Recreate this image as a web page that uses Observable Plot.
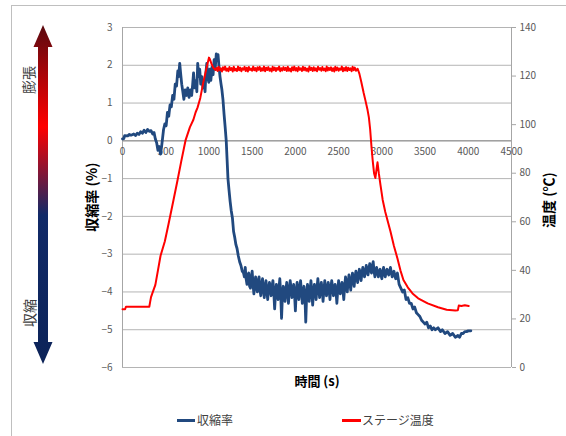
<!DOCTYPE html>
<html><head><meta charset="utf-8">
<script src="https://cdn.jsdelivr.net/npm/d3@7"></script>
<script src="https://cdn.jsdelivr.net/npm/@observablehq/plot@0.6"></script>
<style>
html,body{margin:0;padding:0;background:#fff;width:566px;height:436px;overflow:hidden;font-family:"Noto Sans CJK JP","Noto Sans",sans-serif;}
#wrap{position:relative;width:566px;height:436px;}
.abs{position:absolute;white-space:nowrap;}
.rot{transform:translate(-50%,-50%) rotate(-90deg);}
.ctr{transform:translate(-50%,-50%);}
</style></head>
<body><div id="wrap">
<div class="abs" style="left:11px;top:5px;width:600px;height:480px;border-left:1px solid #bfbfbf;border-top:1px solid #bfbfbf;"></div>
<svg class="abs" style="left:0;top:0" width="80" height="380">
<defs><linearGradient id="g" gradientUnits="userSpaceOnUse" x1="0" y1="25" x2="0" y2="364">
<stop offset="0" stop-color="#5a0a10"/><stop offset="0.3" stop-color="#ff0000"/><stop offset="0.56" stop-color="#112a68"/><stop offset="1" stop-color="#0c2358"/></linearGradient></defs>
<polygon fill="url(#g)" points="43,25 52.5,47 48,47 48,342 52.5,342 43,364 33.5,342 38,342 38,47 33.5,47"/>
</svg>
<div class="abs rot" style="left:28px;top:80px;font-size:14px;color:#404040;">膨張</div>
<div class="abs rot" style="left:29px;top:313px;font-size:14px;color:#404040;">収縮</div>
<div id="chart" class="abs" style="left:0;top:0"></div>
<div class="abs rot" style="left:91px;top:197px;font-size:14px;font-weight:bold;color:#000;">収縮率 (%)</div>
<div class="abs rot" style="left:548px;top:200px;font-size:14px;font-weight:bold;color:#000;">温度 (℃)</div>
<div class="abs ctr" style="left:317px;top:380px;font-size:13px;font-weight:bold;color:#000;">時間 (s)</div>
<div class="abs" style="left:177px;top:419px;width:18px;height:3px;background:#21497f;"></div>
<div class="abs" style="left:197px;top:411px;font-size:12px;color:#404040;line-height:18px;">収縮率</div>
<div class="abs" style="left:342px;top:419px;width:19px;height:3px;background:#ff0000;"></div>
<div class="abs" style="left:362px;top:411px;font-size:12px;color:#404040;line-height:18px;">ステージ温度</div>
</div>
<script>
const xTicks = [0,500,1000,1500,2000,2500,3000,3500,4000,4500];
const yTicks = [-6,-5,-4,-3,-2,-1,0,1,2,3];
const tempTicks = [0,20,40,60,80,100,120,140];

// 収縮率 (%) vs time (s)
const shrinkData = [
[0,0.05],[15,0.06],[25,0.14],[60,0.13],[80,0.17],[100,0.15],[130,0.18],[150,0.14],[170,0.2],[190,0.17],
[210,0.24],[230,0.2],[250,0.28],[270,0.22],[290,0.3],[310,0.25],[330,0.27],[350,0.18],[365,0.22],[380,0.05],
[395,-0.05],[410,-0.25],[425,-0.15],[440,-0.35],[455,-0.1],[465,0.1],[475,0.3],
[490,0.45],[505,0.4],[520,0.75],[535,0.65],[550,0.95],[565,0.9],[580,1.2],[595,1.1],[610,1.5],[625,1.45],
[640,1.85],[650,1.7],[662,2.05],[672,1.8],[685,1.5],[698,1.3],[710,1.1],[725,1.35],[740,1.2],[755,1.4],
[770,1.15],[787,1.35],[800,1.2],[812,1.5],[822,1.8],[835,1.4],[850,1.6],[860,1.3],[870,2.05],[880,1.7],
[893,1.9],[905,1.5],[918,1.7],[930,1.4],[942,1.6],[955,1.3],[965,1.8],[975,2.05],[985,1.7],[998,1.55],
[1010,1.9],[1022,1.6],[1035,1.95],[1048,1.75],[1060,2.15],[1072,1.9],[1085,2.3],[1095,2.2],[1105,2.28],
[1115,2.0],[1128,1.7],[1140,1.5],[1150,1.35],[1162,1.1],[1175,0.7],[1188,0.35],[1200,0.0],[1210,-0.5],
[1220,-1.0],[1232,-1.3],[1245,-1.6],[1258,-1.85],[1272,-2.05],[1285,-2.4],[1298,-2.55],[1312,-2.75],
[1325,-2.85],[1340,-3.05],[1355,-3.2],[1370,-3.3],[1385,-3.45],[1400,-3.5],
[1410,-3.6],[1420,-3.35],[1430,-3.65],[1440,-3.8],[1450,-3.55],[1460,-3.5],[1470,-3.85],[1480,-3.9],
[1490,-3.6],[1500,-3.45],[1510,-3.8],[1520,-4.05],[1530,-3.75],[1540,-3.6],[1550,-3.9],[1560,-4.0],
[1570,-3.7],[1580,-3.6],[1590,-3.95],[1600,-4.1],[1610,-3.8],[1620,-3.65],[1630,-3.95],[1640,-4.15],
[1650,-3.85],[1660,-3.7],[1670,-4.0],[1680,-4.2],[1690,-3.9],[1700,-3.75],[1710,-3.95],[1720,-4.1],
[1730,-3.85],[1740,-3.7],[1750,-4.0],[1760,-4.45],[1770,-4.05],[1780,-3.8],[1790,-3.95],[1800,-4.2],
[1810,-3.9],[1820,-3.65],[1830,-4.05],[1840,-4.7],[1850,-4.1],[1860,-3.85],[1870,-3.95],[1880,-4.25],
[1890,-3.95],[1900,-3.75],[1910,-4.0],[1920,-4.3],[1930,-3.95],[1940,-3.7],[1950,-3.9],[1960,-4.15],
[1970,-4.0],[1980,-3.8],[1990,-4.05],[2000,-4.5],[2010,-4.0],[2020,-3.75],[2030,-3.95],[2040,-4.2],
[2050,-3.9],[2060,-3.7],[2070,-4.0],[2080,-4.3],[2090,-4.05],[2100,-3.85],[2110,-4.1],[2120,-4.8],
[2130,-4.1],[2140,-3.8],[2150,-3.95],[2160,-4.25],[2170,-3.95],[2180,-3.7],[2190,-4.0],[2200,-4.35],
[2210,-4.0],[2220,-3.8],[2230,-3.95],[2240,-4.2],[2250,-3.9],[2260,-3.65],[2270,-3.9],[2280,-4.15],
[2290,-3.95],[2300,-3.75],[2310,-3.95],[2320,-4.25],[2330,-3.95],[2340,-3.7],[2350,-3.9],[2360,-4.1],
[2370,-3.9],[2380,-3.75],[2390,-3.95],[2400,-4.2],[2410,-3.9],[2420,-3.7],[2430,-3.85],[2440,-4.1],
[2450,-3.95],[2460,-3.8],[2470,-4.0],[2480,-4.3],[2490,-3.95],[2500,-3.7],[2510,-3.85],[2520,-4.05],
[2530,-3.9],[2540,-3.75],[2550,-3.95],[2560,-4.2],[2570,-3.85],[2580,-3.6],[2590,-3.8],[2600,-4.0],
[2610,-3.75],[2620,-3.55],[2630,-3.75],[2640,-3.95],[2650,-3.7],[2660,-3.5],[2670,-3.65],[2680,-3.85],
[2690,-3.6],[2700,-3.45],[2710,-3.6],[2720,-3.75],[2730,-3.55],[2740,-3.4],[2750,-3.55],[2760,-3.7],
[2770,-3.5],[2780,-3.35],[2790,-3.5],[2800,-3.6],[2810,-3.45],[2820,-3.3],[2830,-3.45],[2840,-3.55],
[2850,-3.4],[2860,-3.25],[2870,-3.4],[2880,-3.5],[2890,-3.3],[2900,-3.2],[2910,-3.45],[2920,-3.6],
[2930,-3.45],[2940,-3.35],[2950,-3.5],[2960,-3.6],[2970,-3.45],[2980,-3.4],[2990,-3.55],[3000,-3.65],
[3010,-3.5],[3020,-3.35],[3030,-3.5],[3040,-3.6],[3050,-3.45],[3060,-3.4],[3070,-3.5],[3080,-3.55],
[3090,-3.45],[3100,-3.35],[3110,-3.5],[3120,-3.6],[3130,-3.5],[3140,-3.45],[3150,-3.55],[3160,-3.65],
[3180,-3.5],[3200,-3.8],[3220,-3.9],[3240,-4.0],[3260,-3.95],[3280,-4.2],[3300,-4.15],[3320,-4.3],
[3340,-4.3],[3360,-4.45],[3380,-4.4],[3400,-4.55],[3420,-4.6],[3440,-4.65],[3460,-4.75],[3480,-4.8],
[3500,-4.85],[3520,-4.8],[3540,-4.95],[3560,-4.9],[3580,-5.0],[3600,-4.95],[3620,-5.0],[3650,-4.95],
[3680,-5.05],[3700,-5.0],[3730,-5.1],[3760,-5.05],[3790,-5.15],[3820,-5.1],[3850,-5.2],[3880,-5.15],
[3900,-5.2],[3920,-5.1],[3940,-5.1],[3960,-5.05],[3980,-5.05],[4000,-5.03],[4030,-5.03]
];

// ステージ温度 (℃) vs time (s)
const tempData = [
[0,24],[30,24],[40,25],[310,25],[320,27],[330,29],[345,30.5],[380,34],[410,40],[440,46],[490,52],[532,59],
[590,69],[636,77],[680,85],[729,93.5],[780,99],[820,102],[845,105],[868,107],[900,111],[938,118],[970,123],
[1000,127.6],[1010,127],[1030,125],[1050,123.5],[1076,122.5],
[1090,123.4],[1100,122.1],[1112,123.8],[1125,122.4],[1137,123.2],[1150,121.9],[1162,123.6],[1175,122.6],
[1187,123.9],[1200,122.2],[1212,123.1],[1225,122.0],[1237,123.7],[1250,122.5],[1262,123.3],[1275,121.9],
[1287,123.8],[1300,122.3],[1312,123.0],[1325,122.1],[1337,123.9],[1350,122.4],[1362,123.5],[1375,122.0],
[1387,123.2],[1400,122.6],[1412,123.8],[1425,122.1],[1437,123.4],[1450,121.9],[1462,123.7],[1475,122.5],
[1487,123.1],[1500,122.2],[1512,123.9],[1525,122.4],[1537,123.3],[1550,122.0],[1562,123.6],[1575,122.6],
[1587,123.8],[1600,122.1],[1612,123.2],[1625,122.3],[1637,123.9],[1650,122.0],[1662,123.4],[1675,122.5],
[1687,123.7],[1700,122.2],[1712,123.1],[1725,121.9],[1737,123.8],[1750,122.4],[1762,123.5],[1775,122.1],
[1787,123.3],[1800,122.6],[1812,123.9],[1825,122.0],[1837,123.2],[1850,122.3],[1862,123.7],[1875,122.5],
[1887,123.4],[1900,122.1],[1912,123.8],[1925,122.2],[1937,123.1],[1950,121.9],[1962,123.6],[1975,122.4],
[1987,123.9],[2000,122.3],[2012,123.3],[2025,122.0],[2037,123.7],[2050,122.6],[2062,123.2],[2075,122.1],
[2087,123.8],[2100,122.4],[2112,123.5],[2125,122.2],[2137,123.1],[2150,121.9],[2162,123.9],[2175,122.5],
[2187,123.4],[2200,122.1],[2212,123.6],[2225,122.3],[2237,123.2],[2250,122.0],[2262,123.8],[2275,122.6],
[2287,123.3],[2300,122.2],[2312,123.7],[2325,122.4],[2337,123.1],[2350,122.0],[2362,123.9],[2375,122.3],
[2387,123.4],[2400,122.5],[2412,123.6],[2425,122.1],[2437,123.2],[2450,121.9],[2462,123.8],[2475,122.4],
[2487,123.5],[2500,122.2],[2512,123.1],[2525,122.6],[2537,123.9],[2550,122.0],[2562,123.3],[2575,122.3],
[2587,123.7],[2600,122.1],[2612,123.4],[2625,122.5],[2637,123.2],[2650,122.0],[2662,123.8],[2675,122.4],
[2687,123.5],[2700,122.2],[2720,123],[2740,121],[2760,118],[2790,113],[2810,110],[2835,106],[2850,103],[2865,98],
[2880,91],[2895,85],[2910,80],[2925,78],[2940,82],[2950,84.5],[2965,80],[2985,75],[3010,69],[3040,64],
[3070,60],[3100,56],[3140,50],[3180,45],[3215,40],[3250,36],[3300,33],[3355,30.5],[3420,28.5],[3530,26.4],
[3650,24.8],[3750,23.8],[3850,23.5],[3880,23.6],[3890,25.5],[3920,25.3],[3960,25.6],[4005,25.3]
];

const toY = t => -6 + t * 9 / 140;
const fromY = y => Math.round((y + 6) * 140 / 9);

const chart = Plot.plot({
  width: 566, height: 400,
  marginLeft: 122, marginRight: 55, marginTop: 27, marginBottom: 33,
  style: {fontFamily: '"Noto Sans CJK JP","Noto Sans",sans-serif', fontSize: "10px", background: "transparent", overflow: "visible"},
  x: {domain: [0, 4500], axis: null},
  y: {domain: [-6, 3], axis: null},
  marks: [
    Plot.ruleY(yTicks, {stroke: "#b4b4b4", strokeWidth: 1}),
    Plot.ruleY([0], {stroke: "#8c8c8c", strokeWidth: 1}),
    Plot.ruleX([0], {stroke: "#a6a6a6"}),
    Plot.ruleX([4500], {stroke: "#a6a6a6"}),
    Plot.axisY(yTicks, {anchor: "left", tickSize: 0, tickPadding: 10, label: null, fill: "#595959", fontSize: 10}),
    Plot.axisY(tempTicks.map(toY), {anchor: "right", tickSize: 4, tickPadding: 4, label: null, tickFormat: fromY, stroke: "#a6a6a6", fill: "#595959", fontSize: 10}),
    Plot.text(xTicks, {x: d => d, y: 0, dy: 11, text: d => String(d), fill: "#595959", fontSize: 10}),
    Plot.line(shrinkData, {x: d => d[0], y: d => d[1], stroke: "#21497f", strokeWidth: 2.8}),
    Plot.line(tempData, {x: d => d[0], y: d => toY(d[1]), stroke: "#ff0000", strokeWidth: 2})
  ]
});
document.getElementById("chart").appendChild(chart);
</script>
</body></html>
